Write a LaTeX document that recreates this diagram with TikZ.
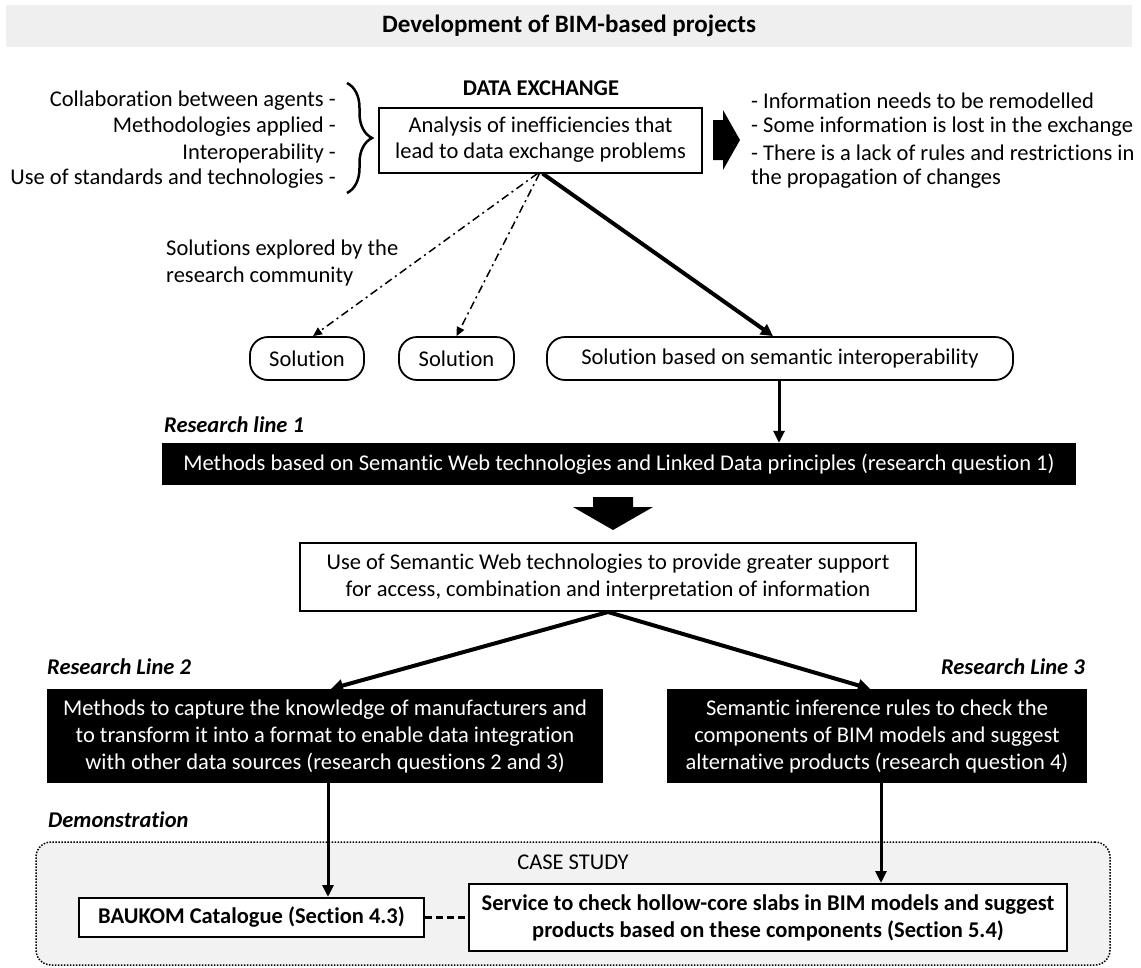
\documentclass[tikz,border=0pt]{standalone}
\usepackage{fontspec}
\setmainfont{Carlito}[Ligatures=NoCommon]
\usetikzlibrary{arrows.meta,decorations.pathreplacing}
\definecolor{bandgray}{HTML}{EFEFEF}
\definecolor{casegray}{HTML}{F2F2F2}
\newcommand{\txt}{\fontsize{22.5}{26}\selectfont}
\begin{document}
\begin{tikzpicture}[x=1pt,y=-1pt,
  every node/.style={font=\txt, inner sep=0pt},
  plainbox/.style={draw, line width=2pt, fill=white, align=center},
  darkbox/.style={fill=black, text=white, align=center},
  pill/.style={draw, line width=1.8pt, rounded corners=18pt, fill=white},
  linelabel/.style={font=\txt\bfseries\itshape},
  heavy/.style={line width=4pt, -{Triangle[length=12pt,width=12pt]}},
  medium/.style={line width=3pt, -{Triangle[length=12pt,width=11pt]}},
  dashdot/.style={line width=1.5pt, dash pattern=on 8pt off 4pt on 2pt off 4pt, -{Triangle[length=9pt,width=8pt]}},
]
\useasboundingbox (0,0) rectangle (1141,967);

% heading band
\node[fill=bandgray, minimum width=1126, minimum height=42, font=\fontsize{25}{30}\selectfont\bfseries] (title) at (569,26) {Development of BIM-based projects};

% data exchange block
\node[font=\txt\bfseries] (dx) at (541,88) {DATA EXCHANGE};
\node[plainbox, minimum width=323, minimum height=65] (analysis) at (540.5,140) {Analysis of inefficiencies that\\lead to data exchange problems};

\node[anchor=east] (c1) at (336,101) {Collaboration between agents -};
\node[anchor=east] (c2) at (336,127) {Methodologies applied -};
\node[anchor=east] (c3) at (336,153) {Interoperability -};
\node[anchor=east] (c4) at (336,179) {Use of standards and technologies -};
\draw[line width=2.5pt, decorate, decoration={brace, amplitude=25pt}] (347,83) -- (347,193);

\fill (713,120) -- (723,120) -- (723,110) -- (740,140) -- (723,170) -- (723,160) -- (713,160) -- cycle;

\node[anchor=west] (e1) at (751,101) {- Information needs to be remodelled};
\node[anchor=west] (e2) at (751,127) {- Some information is lost in the exchange};
\node[anchor=west] (e3) at (751,153) {- There is a lack of rules and restrictions in};
\node[anchor=west] (e4) at (751,179) {the propagation of changes};

% solutions
\node[anchor=west, align=left, font=\fontsize{22.5}{27}\selectfont] (explored) at (166,262.5) {Solutions explored by the\\research community};
\node[pill, minimum width=114, minimum height=43] (sol1) at (307,358.5) {Solution};
\node[pill, minimum width=115, minimum height=43] (sol2) at (456.5,358.5) {Solution};
\node[pill, minimum width=466, minimum height=43] (sol3) at (780,358.5) {Solution based on semantic interoperability};

\draw[dashdot] ([xshift=-3pt]analysis.south) -- ([xshift=6pt]sol1.north);
\draw[dashdot] ([xshift=-1pt]analysis.south) -- (sol2.north);
\draw[heavy] ([xshift=2pt]analysis.south) -- ([xshift=-7pt]sol3.north);

% research line 1
\node[linelabel, anchor=west] (rl1lab) at (164,425) {Research line 1};
\node[darkbox, minimum width=914, minimum height=42] (rl1) at (619,464) {Methods based on Semantic Web technologies and Linked Data principles (research question 1)};
\draw[medium] ([xshift=-1pt]sol3.south) -- ([xshift=-1pt]sol3.south |- rl1.north);

\fill (593,497) -- (633,497) -- (633,507) -- (653,507) -- (613,530) -- (573,507) -- (593,507) -- cycle;

\node[plainbox, minimum width=616, minimum height=68, font=\fontsize{22.5}{27}\selectfont] (use) at (608,577) {Use of Semantic Web technologies to provide greater support\\for access, combination and interpretation of information};

% research lines 2 and 3
\node[linelabel, anchor=west] (rl2lab) at (47,667) {Research Line 2};
\node[linelabel, anchor=east] (rl3lab) at (1085,667) {Research Line 3};
\node[darkbox, minimum width=556, minimum height=94, font=\fontsize{22.5}{27}\selectfont] (rl2) at (325,736) {Methods to capture the knowledge of manufacturers and\\to transform it into a format to enable data integration\\with other data sources (research questions 2 and 3)};
\node[darkbox, minimum width=420, minimum height=94, font=\fontsize{22.5}{27}\selectfont] (rl3) at (877,736) {Semantic inference rules to check the\\components of BIM models and suggest\\alternative products (research question 4)};
\draw[heavy] (use.south) -- ([xshift=6pt]rl2.north);
\draw[heavy] (use.south) -- ([xshift=-7pt]rl3.north);

% demonstration
\node[linelabel, anchor=west] (demolab) at (48,820) {Demonstration};
\node[draw, fill=casegray, line width=1.5pt, dash pattern=on 1.5pt off 1.5pt, rounded corners=15pt, minimum width=1074, minimum height=123] (case) at (573,903.5) {};
\node (caselab) at (573,862) {CASE STUDY};
\node[plainbox, minimum width=345, minimum height=39, font=\txt\bfseries] (baukom) at (251.5,917.5) {BAUKOM Catalogue (Section 4.3)};
\node[plainbox, minimum width=598, minimum height=67, font=\fontsize{22.5}{27}\selectfont\bfseries] (service) at (768,917.5) {Service to check hollow-core slabs in BIM models and suggest\\products based on these components (Section 5.4)};

\draw[medium] ([xshift=3pt]rl2.south) -- ([xshift=3pt]rl2.south |- baukom.north);
\draw[medium] ([xshift=4pt]rl3.south) -- ([xshift=4pt]rl3.south |- service.north);
\draw[line width=3pt, dash pattern=on 7pt off 4pt] (baukom.east) -- (service.west);
\end{tikzpicture}
\end{document}
